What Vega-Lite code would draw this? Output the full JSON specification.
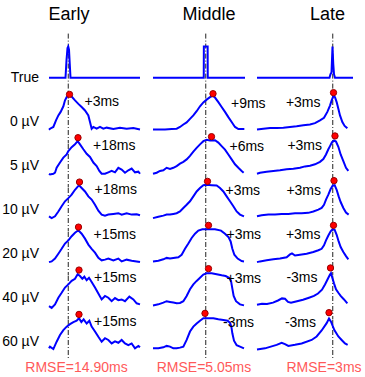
{
"$schema": "https://vega.github.io/schema/vega-lite/v6.json",
"padding": {"left": 2, "top": 5, "right": 2, "bottom": 2},
"bounds": "flush",
"config": {"view": {"stroke": null}, "font": "Liberation Sans"},
"data": {"values": [
{"k":"h","r":"True","c":"Early","t":40,"s":"Early"},
{"k":"h","r":"True","c":"Middle","t":112,"s":"Middle"},
{"k":"h","r":"True","c":"Late","t":141,"s":"Late"},
{"k":"e","r":"60 µV","c":"Early","t":55,"s":"RMSE=14.90ms"},
{"k":"e","r":"60 µV","c":"Middle","t":102,"s":"RMSE=5.05ms"},
{"k":"e","r":"60 µV","c":"Late","t":134,"s":"RMSE=3ms"},
{"k":"d","r":"True","c":"Early","t":38.5},{"k":"d","r":"0 µV","c":"Early","t":38.5},{"k":"d","r":"5 µV","c":"Early","t":38.5},{"k":"d","r":"10 µV","c":"Early","t":38.5},{"k":"d","r":"20 µV","c":"Early","t":38.5},{"k":"d","r":"40 µV","c":"Early","t":38.5},{"k":"d","r":"60 µV","c":"Early","t":38.5},
{"k":"d","r":"True","c":"Middle","t":105.5},{"k":"d","r":"0 µV","c":"Middle","t":105.5},{"k":"d","r":"5 µV","c":"Middle","t":105.5},{"k":"d","r":"10 µV","c":"Middle","t":105.5},{"k":"d","r":"20 µV","c":"Middle","t":105.5},{"k":"d","r":"40 µV","c":"Middle","t":105.5},{"k":"d","r":"60 µV","c":"Middle","t":105.5},
{"k":"d","r":"True","c":"Late","t":151.5},{"k":"d","r":"0 µV","c":"Late","t":151.5},{"k":"d","r":"5 µV","c":"Late","t":151.5},{"k":"d","r":"10 µV","c":"Late","t":151.5},{"k":"d","r":"20 µV","c":"Late","t":151.5},{"k":"d","r":"40 µV","c":"Late","t":151.5},{"k":"d","r":"60 µV","c":"Late","t":151.5},
{"k":"p","r":"0 µV","c":"Early","t":41,"v":0.98,"s":"+3ms"},
{"k":"p","r":"5 µV","c":"Early","t":58,"v":1.0,"s":"+18ms"},
{"k":"p","r":"10 µV","c":"Early","t":61,"v":0.99,"s":"+18ms"},
{"k":"p","r":"20 µV","c":"Early","t":59,"v":0.96,"s":"+15ms"},
{"k":"p","r":"40 µV","c":"Early","t":60,"v":0.99,"s":"+15ms"},
{"k":"p","r":"60 µV","c":"Early","t":60,"v":0.98,"s":"+15ms"},
{"k":"p","r":"0 µV","c":"Middle","t":120,"v":1.0,"s":"+9ms"},
{"k":"p","r":"5 µV","c":"Middle","t":117,"v":1.03,"s":"+6ms"},
{"k":"p","r":"10 µV","c":"Middle","t":109,"v":1.01,"s":"+3ms"},
{"k":"p","r":"20 µV","c":"Middle","t":111,"v":1.01,"s":"+3ms"},
{"k":"p","r":"40 µV","c":"Middle","t":111,"v":1.03,"s":"+3ms"},
{"k":"p","r":"60 µV","c":"Middle","t":104,"v":1.01,"s":"-3ms"},
{"k":"p","r":"0 µV","c":"Late","t":153,"v":1.03,"s":"+3ms"},
{"k":"p","r":"5 µV","c":"Late","t":156,"v":1.05,"s":"+3ms"},
{"k":"p","r":"10 µV","c":"Late","t":154,"v":1.03,"s":"+3ms"},
{"k":"p","r":"20 µV","c":"Late","t":153,"v":1.01,"s":"+3ms"},
{"k":"p","r":"40 µV","c":"Late","t":147,"v":1.05,"s":"-3ms"},
{"k":"p","r":"60 µV","c":"Late","t":144,"v":1.03,"s":"-3ms"},

{"k":"w","r":"True","c":"Early","t":0,"v":0.2},{"k":"w","r":"True","c":"Early","t":33,"v":0.2},{"k":"w","r":"True","c":"Early","t":35,"v":0.7},{"k":"w","r":"True","c":"Early","t":37,"v":1.05},{"k":"w","r":"True","c":"Early","t":38.5,"v":1.09},{"k":"w","r":"True","c":"Early","t":40,"v":1.0},{"k":"w","r":"True","c":"Early","t":41.5,"v":0.6},{"k":"w","r":"True","c":"Early","t":43,"v":0.2},{"k":"w","r":"True","c":"Early","t":182,"v":0.2},

{"k":"w","r":"0 µV","c":"Early","t":0,"v":-0.03},{"k":"w","r":"0 µV","c":"Early","t":2,"v":0},{"k":"w","r":"0 µV","c":"Early","t":8.7,"v":0.05},{"k":"w","r":"0 µV","c":"Early","t":14,"v":0.24},{"k":"w","r":"0 µV","c":"Early","t":18.7,"v":0.38},{"k":"w","r":"0 µV","c":"Early","t":23.3,"v":0.48},{"k":"w","r":"0 µV","c":"Early","t":28.7,"v":0.64},{"k":"w","r":"0 µV","c":"Early","t":32,"v":0.81},{"k":"w","r":"0 µV","c":"Early","t":35.3,"v":0.9},{"k":"w","r":"0 µV","c":"Early","t":40,"v":0.97},{"k":"w","r":"0 µV","c":"Early","t":45.3,"v":0.92},{"k":"w","r":"0 µV","c":"Early","t":52,"v":0.81},{"k":"w","r":"0 µV","c":"Early","t":58.7,"v":0.71},{"k":"w","r":"0 µV","c":"Early","t":65.3,"v":0.62},{"k":"w","r":"0 µV","c":"Early","t":72,"v":0.52},{"k":"w","r":"0 µV","c":"Early","t":78.7,"v":0.38},{"k":"w","r":"0 µV","c":"Early","t":82,"v":0.19},{"k":"w","r":"0 µV","c":"Early","t":85.3,"v":0},{"k":"w","r":"0 µV","c":"Early","t":88.7,"v":0.05},{"k":"w","r":"0 µV","c":"Early","t":95.3,"v":0},{"k":"w","r":"0 µV","c":"Early","t":102,"v":0.05},{"k":"w","r":"0 µV","c":"Early","t":108.7,"v":0},{"k":"w","r":"0 µV","c":"Early","t":115.3,"v":0.03},{"k":"w","r":"0 µV","c":"Early","t":128.7,"v":-0.01},{"k":"w","r":"0 µV","c":"Early","t":142,"v":0.03},{"k":"w","r":"0 µV","c":"Early","t":155.3,"v":0},{"k":"w","r":"0 µV","c":"Early","t":168.7,"v":0.02},{"k":"w","r":"0 µV","c":"Early","t":182,"v":-0.02},

{"k":"w","r":"5 µV","c":"Early","t":0,"v":-0.03},{"k":"w","r":"5 µV","c":"Early","t":2,"v":-0.05},{"k":"w","r":"5 µV","c":"Early","t":8.7,"v":-0.03},{"k":"w","r":"5 µV","c":"Early","t":12,"v":0},{"k":"w","r":"5 µV","c":"Early","t":15.3,"v":0.14},{"k":"w","r":"5 µV","c":"Early","t":22,"v":0.29},{"k":"w","r":"5 µV","c":"Early","t":28.7,"v":0.43},{"k":"w","r":"5 µV","c":"Early","t":35.3,"v":0.52},{"k":"w","r":"5 µV","c":"Early","t":38.7,"v":0.62},{"k":"w","r":"5 µV","c":"Early","t":45.3,"v":0.73},{"k":"w","r":"5 µV","c":"Early","t":52,"v":0.81},{"k":"w","r":"5 µV","c":"Early","t":57.3,"v":0.9},{"k":"w","r":"5 µV","c":"Early","t":62,"v":0.81},{"k":"w","r":"5 µV","c":"Early","t":68.7,"v":0.67},{"k":"w","r":"5 µV","c":"Early","t":75.3,"v":0.54},{"k":"w","r":"5 µV","c":"Early","t":82,"v":0.45},{"k":"w","r":"5 µV","c":"Early","t":88.7,"v":0.29},{"k":"w","r":"5 µV","c":"Early","t":95.3,"v":0.19},{"k":"w","r":"5 µV","c":"Early","t":100.7,"v":0.05},{"k":"w","r":"5 µV","c":"Early","t":105.3,"v":-0.03},{"k":"w","r":"5 µV","c":"Early","t":112,"v":-0.03},{"k":"w","r":"5 µV","c":"Early","t":118.7,"v":0.01},{"k":"w","r":"5 µV","c":"Early","t":125.3,"v":0.05},{"k":"w","r":"5 µV","c":"Early","t":132,"v":0.01},{"k":"w","r":"5 µV","c":"Early","t":138.7,"v":0.14},{"k":"w","r":"5 µV","c":"Early","t":145.3,"v":0.09},{"k":"w","r":"5 µV","c":"Early","t":152,"v":0},{"k":"w","r":"5 µV","c":"Early","t":158.7,"v":0.07},{"k":"w","r":"5 µV","c":"Early","t":165.3,"v":0.12},{"k":"w","r":"5 µV","c":"Early","t":172,"v":0.01},{"k":"w","r":"5 µV","c":"Early","t":178.7,"v":0.03},{"k":"w","r":"5 µV","c":"Early","t":182,"v":-0.03},

{"k":"w","r":"10 µV","c":"Early","t":0,"v":0.01},{"k":"w","r":"10 µV","c":"Early","t":5.3,"v":-0.04},{"k":"w","r":"10 µV","c":"Early","t":12,"v":0.01},{"k":"w","r":"10 µV","c":"Early","t":18.7,"v":0.15},{"k":"w","r":"10 µV","c":"Early","t":25.3,"v":0.3},{"k":"w","r":"10 µV","c":"Early","t":32,"v":0.44},{"k":"w","r":"10 µV","c":"Early","t":38.7,"v":0.53},{"k":"w","r":"10 µV","c":"Early","t":45.3,"v":0.63},{"k":"w","r":"10 µV","c":"Early","t":52,"v":0.77},{"k":"w","r":"10 µV","c":"Early","t":60,"v":0.9},{"k":"w","r":"10 µV","c":"Early","t":65.3,"v":0.82},{"k":"w","r":"10 µV","c":"Early","t":72,"v":0.72},{"k":"w","r":"10 µV","c":"Early","t":78.7,"v":0.58},{"k":"w","r":"10 µV","c":"Early","t":85.3,"v":0.49},{"k":"w","r":"10 µV","c":"Early","t":92,"v":0.34},{"k":"w","r":"10 µV","c":"Early","t":98.7,"v":0.17},{"k":"w","r":"10 µV","c":"Early","t":105.3,"v":0.06},{"k":"w","r":"10 µV","c":"Early","t":112,"v":0.03},{"k":"w","r":"10 µV","c":"Early","t":118.7,"v":0.06},{"k":"w","r":"10 µV","c":"Early","t":128.7,"v":0.08},{"k":"w","r":"10 µV","c":"Early","t":138.7,"v":0.1},{"k":"w","r":"10 µV","c":"Early","t":145.3,"v":0.06},{"k":"w","r":"10 µV","c":"Early","t":155.3,"v":0.1},{"k":"w","r":"10 µV","c":"Early","t":165.3,"v":0.06},{"k":"w","r":"10 µV","c":"Early","t":175.3,"v":0.07},{"k":"w","r":"10 µV","c":"Early","t":182,"v":0.04},

{"k":"w","r":"20 µV","c":"Early","t":0,"v":-0.04},{"k":"w","r":"20 µV","c":"Early","t":5.3,"v":-0.02},{"k":"w","r":"20 µV","c":"Early","t":12,"v":0.06},{"k":"w","r":"20 µV","c":"Early","t":18.7,"v":0.2},{"k":"w","r":"20 µV","c":"Early","t":25.3,"v":0.34},{"k":"w","r":"20 µV","c":"Early","t":32,"v":0.49},{"k":"w","r":"20 µV","c":"Early","t":38.7,"v":0.58},{"k":"w","r":"20 µV","c":"Early","t":45.3,"v":0.7},{"k":"w","r":"20 µV","c":"Early","t":52,"v":0.8},{"k":"w","r":"20 µV","c":"Early","t":58.7,"v":0.87},{"k":"w","r":"20 µV","c":"Early","t":65.3,"v":0.77},{"k":"w","r":"20 µV","c":"Early","t":72,"v":0.63},{"k":"w","r":"20 µV","c":"Early","t":78.7,"v":0.46},{"k":"w","r":"20 µV","c":"Early","t":85.3,"v":0.34},{"k":"w","r":"20 µV","c":"Early","t":92,"v":0.23},{"k":"w","r":"20 µV","c":"Early","t":98.7,"v":0.08},{"k":"w","r":"20 µV","c":"Early","t":105.3,"v":0.01},{"k":"w","r":"20 µV","c":"Early","t":112,"v":0.03},{"k":"w","r":"20 µV","c":"Early","t":118.7,"v":0.06},{"k":"w","r":"20 µV","c":"Early","t":128.7,"v":0.01},{"k":"w","r":"20 µV","c":"Early","t":138.7,"v":0.06},{"k":"w","r":"20 µV","c":"Early","t":145.3,"v":-0.02},{"k":"w","r":"20 µV","c":"Early","t":155.3,"v":0.03},{"k":"w","r":"20 µV","c":"Early","t":165.3,"v":0},{"k":"w","r":"20 µV","c":"Early","t":175.3,"v":-0.02},{"k":"w","r":"20 µV","c":"Early","t":182,"v":-0.04},

{"k":"w","r":"40 µV","c":"Early","t":0,"v":-0.04},{"k":"w","r":"40 µV","c":"Early","t":5.3,"v":-0.09},{"k":"w","r":"40 µV","c":"Early","t":12,"v":0.01},{"k":"w","r":"40 µV","c":"Early","t":18.7,"v":0.2},{"k":"w","r":"40 µV","c":"Early","t":25.3,"v":0.34},{"k":"w","r":"40 µV","c":"Early","t":32,"v":0.49},{"k":"w","r":"40 µV","c":"Early","t":38.7,"v":0.58},{"k":"w","r":"40 µV","c":"Early","t":45.3,"v":0.68},{"k":"w","r":"40 µV","c":"Early","t":52,"v":0.74},{"k":"w","r":"40 µV","c":"Early","t":57.3,"v":0.87},{"k":"w","r":"40 µV","c":"Early","t":62,"v":0.82},{"k":"w","r":"40 µV","c":"Early","t":66.7,"v":0.74},{"k":"w","r":"40 µV","c":"Early","t":70.7,"v":0.8},{"k":"w","r":"40 µV","c":"Early","t":75.3,"v":0.7},{"k":"w","r":"40 µV","c":"Early","t":80,"v":0.77},{"k":"w","r":"40 µV","c":"Early","t":85.3,"v":0.65},{"k":"w","r":"40 µV","c":"Early","t":92,"v":0.49},{"k":"w","r":"40 µV","c":"Early","t":98.7,"v":0.32},{"k":"w","r":"40 µV","c":"Early","t":105.3,"v":0.15},{"k":"w","r":"40 µV","c":"Early","t":112,"v":0.25},{"k":"w","r":"40 µV","c":"Early","t":118.7,"v":0.2},{"k":"w","r":"40 µV","c":"Early","t":125.3,"v":0.1},{"k":"w","r":"40 µV","c":"Early","t":132,"v":0.19},{"k":"w","r":"40 µV","c":"Early","t":138.7,"v":0.13},{"k":"w","r":"40 µV","c":"Early","t":145.3,"v":0.15},{"k":"w","r":"40 µV","c":"Early","t":152,"v":0.1},{"k":"w","r":"40 µV","c":"Early","t":160.7,"v":0.23},{"k":"w","r":"40 µV","c":"Early","t":168.7,"v":0.15},{"k":"w","r":"40 µV","c":"Early","t":175.3,"v":0.04},{"k":"w","r":"40 µV","c":"Early","t":182,"v":0.01},

{"k":"w","r":"60 µV","c":"Early","t":0,"v":0.01},{"k":"w","r":"60 µV","c":"Early","t":2,"v":0.06},{"k":"w","r":"60 µV","c":"Early","t":8.7,"v":-0.01},{"k":"w","r":"60 µV","c":"Early","t":15.3,"v":0.2},{"k":"w","r":"60 µV","c":"Early","t":22,"v":0.39},{"k":"w","r":"60 µV","c":"Early","t":28.7,"v":0.53},{"k":"w","r":"60 µV","c":"Early","t":35.3,"v":0.63},{"k":"w","r":"60 µV","c":"Early","t":42,"v":0.7},{"k":"w","r":"60 µV","c":"Early","t":48.7,"v":0.76},{"k":"w","r":"60 µV","c":"Early","t":55.3,"v":0.8},{"k":"w","r":"60 µV","c":"Early","t":60,"v":0.87},{"k":"w","r":"60 µV","c":"Early","t":64.7,"v":0.76},{"k":"w","r":"60 µV","c":"Early","t":69.3,"v":0.84},{"k":"w","r":"60 µV","c":"Early","t":75.3,"v":0.72},{"k":"w","r":"60 µV","c":"Early","t":80.7,"v":0.8},{"k":"w","r":"60 µV","c":"Early","t":85.3,"v":0.63},{"k":"w","r":"60 µV","c":"Early","t":92,"v":0.49},{"k":"w","r":"60 µV","c":"Early","t":98.7,"v":0.34},{"k":"w","r":"60 µV","c":"Early","t":105.3,"v":0.2},{"k":"w","r":"60 µV","c":"Early","t":112,"v":0.3},{"k":"w","r":"60 µV","c":"Early","t":118.7,"v":0.25},{"k":"w","r":"60 µV","c":"Early","t":125.3,"v":0.15},{"k":"w","r":"60 µV","c":"Early","t":132,"v":0.21},{"k":"w","r":"60 µV","c":"Early","t":138.7,"v":0.17},{"k":"w","r":"60 µV","c":"Early","t":145.3,"v":0.25},{"k":"w","r":"60 µV","c":"Early","t":152,"v":0.15},{"k":"w","r":"60 µV","c":"Early","t":158.7,"v":0.1},{"k":"w","r":"60 µV","c":"Early","t":165.3,"v":0.15},{"k":"w","r":"60 µV","c":"Early","t":172,"v":0.01},{"k":"w","r":"60 µV","c":"Early","t":178.7,"v":0.08},{"k":"w","r":"60 µV","c":"Early","t":182,"v":0.04},

{"k":"w","r":"True","c":"Middle","t":0,"v":0.2},{"k":"w","r":"True","c":"Middle","t":101.5,"v":0.2},{"k":"w","r":"True","c":"Middle","t":101.7,"v":1.09},{"k":"w","r":"True","c":"Middle","t":109.3,"v":1.09},{"k":"w","r":"True","c":"Middle","t":109.5,"v":0.2},{"k":"w","r":"True","c":"Middle","t":184,"v":0.2},

{"k":"w","r":"0 µV","c":"Middle","t":0,"v":-0.02},{"k":"w","r":"0 µV","c":"Middle","t":10.7,"v":-0.02},{"k":"w","r":"0 µV","c":"Middle","t":24,"v":-0.02},{"k":"w","r":"0 µV","c":"Middle","t":37.3,"v":-0.01},{"k":"w","r":"0 µV","c":"Middle","t":47.3,"v":0},{"k":"w","r":"0 µV","c":"Middle","t":54,"v":0.05},{"k":"w","r":"0 µV","c":"Middle","t":60.7,"v":0.12},{"k":"w","r":"0 µV","c":"Middle","t":67.3,"v":0.18},{"k":"w","r":"0 µV","c":"Middle","t":74,"v":0.28},{"k":"w","r":"0 µV","c":"Middle","t":80.7,"v":0.38},{"k":"w","r":"0 µV","c":"Middle","t":87.3,"v":0.5},{"k":"w","r":"0 µV","c":"Middle","t":94,"v":0.64},{"k":"w","r":"0 µV","c":"Middle","t":100.7,"v":0.75},{"k":"w","r":"0 µV","c":"Middle","t":107.3,"v":0.83},{"k":"w","r":"0 µV","c":"Middle","t":114,"v":0.9},{"k":"w","r":"0 µV","c":"Middle","t":119.3,"v":0.94},{"k":"w","r":"0 µV","c":"Middle","t":124,"v":0.89},{"k":"w","r":"0 µV","c":"Middle","t":130.7,"v":0.76},{"k":"w","r":"0 µV","c":"Middle","t":137.3,"v":0.62},{"k":"w","r":"0 µV","c":"Middle","t":144,"v":0.48},{"k":"w","r":"0 µV","c":"Middle","t":150.7,"v":0.33},{"k":"w","r":"0 µV","c":"Middle","t":157.3,"v":0.19},{"k":"w","r":"0 µV","c":"Middle","t":164,"v":0.05},{"k":"w","r":"0 µV","c":"Middle","t":170.7,"v":-0.01},{"k":"w","r":"0 µV","c":"Middle","t":182.7,"v":-0.01},

{"k":"w","r":"5 µV","c":"Middle","t":0,"v":-0.03},{"k":"w","r":"5 µV","c":"Middle","t":7.3,"v":0},{"k":"w","r":"5 µV","c":"Middle","t":14,"v":0.05},{"k":"w","r":"5 µV","c":"Middle","t":20.7,"v":0.07},{"k":"w","r":"5 µV","c":"Middle","t":27.3,"v":0.14},{"k":"w","r":"5 µV","c":"Middle","t":34,"v":0.11},{"k":"w","r":"5 µV","c":"Middle","t":40.7,"v":0.14},{"k":"w","r":"5 µV","c":"Middle","t":47.3,"v":0.19},{"k":"w","r":"5 µV","c":"Middle","t":54,"v":0.26},{"k":"w","r":"5 µV","c":"Middle","t":60.7,"v":0.31},{"k":"w","r":"5 µV","c":"Middle","t":67.3,"v":0.38},{"k":"w","r":"5 µV","c":"Middle","t":74,"v":0.48},{"k":"w","r":"5 µV","c":"Middle","t":80.7,"v":0.6},{"k":"w","r":"5 µV","c":"Middle","t":87.3,"v":0.71},{"k":"w","r":"5 µV","c":"Middle","t":94,"v":0.81},{"k":"w","r":"5 µV","c":"Middle","t":100.7,"v":0.9},{"k":"w","r":"5 µV","c":"Middle","t":107.3,"v":0.94},{"k":"w","r":"5 µV","c":"Middle","t":114,"v":0.92},{"k":"w","r":"5 µV","c":"Middle","t":124,"v":0.93},{"k":"w","r":"5 µV","c":"Middle","t":130.7,"v":0.86},{"k":"w","r":"5 µV","c":"Middle","t":137.3,"v":0.76},{"k":"w","r":"5 µV","c":"Middle","t":144,"v":0.66},{"k":"w","r":"5 µV","c":"Middle","t":150.7,"v":0.52},{"k":"w","r":"5 µV","c":"Middle","t":157.3,"v":0.38},{"k":"w","r":"5 µV","c":"Middle","t":164,"v":0.24},{"k":"w","r":"5 µV","c":"Middle","t":170.7,"v":0.14},{"k":"w","r":"5 µV","c":"Middle","t":177.3,"v":0.05},{"k":"w","r":"5 µV","c":"Middle","t":181.3,"v":0},

{"k":"w","r":"10 µV","c":"Middle","t":0,"v":-0.04},{"k":"w","r":"10 µV","c":"Middle","t":10.7,"v":0},{"k":"w","r":"10 µV","c":"Middle","t":20.7,"v":0.03},{"k":"w","r":"10 µV","c":"Middle","t":27.3,"v":0.06},{"k":"w","r":"10 µV","c":"Middle","t":34,"v":0.06},{"k":"w","r":"10 µV","c":"Middle","t":40.7,"v":0.08},{"k":"w","r":"10 µV","c":"Middle","t":47.3,"v":0.1},{"k":"w","r":"10 µV","c":"Middle","t":54,"v":0.15},{"k":"w","r":"10 µV","c":"Middle","t":60.7,"v":0.25},{"k":"w","r":"10 µV","c":"Middle","t":67.3,"v":0.34},{"k":"w","r":"10 µV","c":"Middle","t":74,"v":0.44},{"k":"w","r":"10 µV","c":"Middle","t":80.7,"v":0.58},{"k":"w","r":"10 µV","c":"Middle","t":87.3,"v":0.72},{"k":"w","r":"10 µV","c":"Middle","t":94,"v":0.82},{"k":"w","r":"10 µV","c":"Middle","t":100.7,"v":0.9},{"k":"w","r":"10 µV","c":"Middle","t":107.3,"v":0.91},{"k":"w","r":"10 µV","c":"Middle","t":117.3,"v":0.9},{"k":"w","r":"10 µV","c":"Middle","t":127.3,"v":0.89},{"k":"w","r":"10 µV","c":"Middle","t":134,"v":0.82},{"k":"w","r":"10 µV","c":"Middle","t":140.7,"v":0.72},{"k":"w","r":"10 µV","c":"Middle","t":147.3,"v":0.58},{"k":"w","r":"10 µV","c":"Middle","t":154,"v":0.44},{"k":"w","r":"10 µV","c":"Middle","t":160.7,"v":0.3},{"k":"w","r":"10 µV","c":"Middle","t":167.3,"v":0.15},{"k":"w","r":"10 µV","c":"Middle","t":174,"v":0.06},{"k":"w","r":"10 µV","c":"Middle","t":182,"v":0.01},

{"k":"w","r":"20 µV","c":"Middle","t":0,"v":-0.02},{"k":"w","r":"20 µV","c":"Middle","t":10.7,"v":0},{"k":"w","r":"20 µV","c":"Middle","t":20.7,"v":0.04},{"k":"w","r":"20 µV","c":"Middle","t":27.3,"v":0.08},{"k":"w","r":"20 µV","c":"Middle","t":34,"v":0.06},{"k":"w","r":"20 µV","c":"Middle","t":40.7,"v":0.08},{"k":"w","r":"20 µV","c":"Middle","t":50.7,"v":0.1},{"k":"w","r":"20 µV","c":"Middle","t":57.3,"v":0.17},{"k":"w","r":"20 µV","c":"Middle","t":64,"v":0.34},{"k":"w","r":"20 µV","c":"Middle","t":70.7,"v":0.49},{"k":"w","r":"20 µV","c":"Middle","t":77.3,"v":0.65},{"k":"w","r":"20 µV","c":"Middle","t":84,"v":0.77},{"k":"w","r":"20 µV","c":"Middle","t":90.7,"v":0.86},{"k":"w","r":"20 µV","c":"Middle","t":98.7,"v":0.9},{"k":"w","r":"20 µV","c":"Middle","t":110.7,"v":0.9},{"k":"w","r":"20 µV","c":"Middle","t":124,"v":0.9},{"k":"w","r":"20 µV","c":"Middle","t":136,"v":0.86},{"k":"w","r":"20 µV","c":"Middle","t":144,"v":0.77},{"k":"w","r":"20 µV","c":"Middle","t":150.7,"v":0.68},{"k":"w","r":"20 µV","c":"Middle","t":155.3,"v":0.55},{"k":"w","r":"20 µV","c":"Middle","t":158.7,"v":0.34},{"k":"w","r":"20 µV","c":"Middle","t":162.7,"v":0.17},{"k":"w","r":"20 µV","c":"Middle","t":169.3,"v":0.06},{"k":"w","r":"20 µV","c":"Middle","t":177.3,"v":-0.01},{"k":"w","r":"20 µV","c":"Middle","t":182,"v":-0.02},

{"k":"w","r":"40 µV","c":"Middle","t":0,"v":-0.02},{"k":"w","r":"40 µV","c":"Middle","t":10.7,"v":0.01},{"k":"w","r":"40 µV","c":"Middle","t":20.7,"v":0.06},{"k":"w","r":"40 µV","c":"Middle","t":27.3,"v":0.1},{"k":"w","r":"40 µV","c":"Middle","t":34,"v":0.08},{"k":"w","r":"40 µV","c":"Middle","t":40.7,"v":0.06},{"k":"w","r":"40 µV","c":"Middle","t":47.3,"v":0.04},{"k":"w","r":"40 µV","c":"Middle","t":54,"v":0.05},{"k":"w","r":"40 µV","c":"Middle","t":60.7,"v":0.1},{"k":"w","r":"40 µV","c":"Middle","t":67.3,"v":0.25},{"k":"w","r":"40 µV","c":"Middle","t":74,"v":0.44},{"k":"w","r":"40 µV","c":"Middle","t":80.7,"v":0.58},{"k":"w","r":"40 µV","c":"Middle","t":87.3,"v":0.68},{"k":"w","r":"40 µV","c":"Middle","t":94,"v":0.77},{"k":"w","r":"40 µV","c":"Middle","t":100.7,"v":0.86},{"k":"w","r":"40 µV","c":"Middle","t":107.3,"v":0.9},{"k":"w","r":"40 µV","c":"Middle","t":117.3,"v":0.9},{"k":"w","r":"40 µV","c":"Middle","t":127.3,"v":0.87},{"k":"w","r":"40 µV","c":"Middle","t":137.3,"v":0.84},{"k":"w","r":"40 µV","c":"Middle","t":145.3,"v":0.82},{"k":"w","r":"40 µV","c":"Middle","t":152,"v":0.77},{"k":"w","r":"40 µV","c":"Middle","t":156,"v":0.68},{"k":"w","r":"40 µV","c":"Middle","t":158.7,"v":0.46},{"k":"w","r":"40 µV","c":"Middle","t":161.3,"v":0.25},{"k":"w","r":"40 µV","c":"Middle","t":166,"v":0.1},{"k":"w","r":"40 µV","c":"Middle","t":174,"v":0.01},{"k":"w","r":"40 µV","c":"Middle","t":182,"v":-0.02},

{"k":"w","r":"60 µV","c":"Middle","t":0,"v":0.01},{"k":"w","r":"60 µV","c":"Middle","t":10.7,"v":0.01},{"k":"w","r":"60 µV","c":"Middle","t":20.7,"v":0.04},{"k":"w","r":"60 µV","c":"Middle","t":27.3,"v":0.08},{"k":"w","r":"60 µV","c":"Middle","t":34,"v":0.06},{"k":"w","r":"60 µV","c":"Middle","t":40.7,"v":0.01},{"k":"w","r":"60 µV","c":"Middle","t":47.3,"v":0.01},{"k":"w","r":"60 µV","c":"Middle","t":54,"v":0.03},{"k":"w","r":"60 µV","c":"Middle","t":60.7,"v":0.06},{"k":"w","r":"60 µV","c":"Middle","t":67.3,"v":0.25},{"k":"w","r":"60 µV","c":"Middle","t":74,"v":0.49},{"k":"w","r":"60 µV","c":"Middle","t":80.7,"v":0.63},{"k":"w","r":"60 µV","c":"Middle","t":87.3,"v":0.72},{"k":"w","r":"60 µV","c":"Middle","t":94,"v":0.8},{"k":"w","r":"60 µV","c":"Middle","t":100.7,"v":0.87},{"k":"w","r":"60 µV","c":"Middle","t":110.7,"v":0.87},{"k":"w","r":"60 µV","c":"Middle","t":120.7,"v":0.87},{"k":"w","r":"60 µV","c":"Middle","t":130.7,"v":0.84},{"k":"w","r":"60 µV","c":"Middle","t":140.7,"v":0.82},{"k":"w","r":"60 µV","c":"Middle","t":149.3,"v":0.8},{"k":"w","r":"60 µV","c":"Middle","t":154,"v":0.74},{"k":"w","r":"60 µV","c":"Middle","t":156.7,"v":0.63},{"k":"w","r":"60 µV","c":"Middle","t":158.7,"v":0.44},{"k":"w","r":"60 µV","c":"Middle","t":162,"v":0.23},{"k":"w","r":"60 µV","c":"Middle","t":167.3,"v":0.1},{"k":"w","r":"60 µV","c":"Middle","t":174,"v":0.06},{"k":"w","r":"60 µV","c":"Middle","t":182,"v":0.01},

{"k":"w","r":"True","c":"Late","t":0,"v":0.2},{"k":"w","r":"True","c":"Late","t":145,"v":0.2},{"k":"w","r":"True","c":"Late","t":147,"v":0.3},{"k":"w","r":"True","c":"Late","t":149,"v":0.35},{"k":"w","r":"True","c":"Late","t":151,"v":1.09},{"k":"w","r":"True","c":"Late","t":152.5,"v":0.6},{"k":"w","r":"True","c":"Late","t":154,"v":0.3},{"k":"w","r":"True","c":"Late","t":156,"v":0.2},{"k":"w","r":"True","c":"Late","t":192,"v":0.2},

{"k":"w","r":"0 µV","c":"Late","t":0,"v":-0.02},{"k":"w","r":"0 µV","c":"Late","t":12.7,"v":0},{"k":"w","r":"0 µV","c":"Late","t":26,"v":0.02},{"k":"w","r":"0 µV","c":"Late","t":39.3,"v":0.02},{"k":"w","r":"0 µV","c":"Late","t":52.7,"v":0.03},{"k":"w","r":"0 µV","c":"Late","t":66,"v":0.05},{"k":"w","r":"0 µV","c":"Late","t":79.3,"v":0.07},{"k":"w","r":"0 µV","c":"Late","t":92.7,"v":0.1},{"k":"w","r":"0 µV","c":"Late","t":106,"v":0.12},{"k":"w","r":"0 µV","c":"Late","t":116,"v":0.16},{"k":"w","r":"0 µV","c":"Late","t":126,"v":0.24},{"k":"w","r":"0 µV","c":"Late","t":134,"v":0.31},{"k":"w","r":"0 µV","c":"Late","t":140.7,"v":0.48},{"k":"w","r":"0 µV","c":"Late","t":146,"v":0.66},{"k":"w","r":"0 µV","c":"Late","t":149.3,"v":0.81},{"k":"w","r":"0 µV","c":"Late","t":152.7,"v":0.93},{"k":"w","r":"0 µV","c":"Late","t":156,"v":0.9},{"k":"w","r":"0 µV","c":"Late","t":159.3,"v":0.76},{"k":"w","r":"0 µV","c":"Late","t":162.7,"v":0.57},{"k":"w","r":"0 µV","c":"Late","t":166,"v":0.38},{"k":"w","r":"0 µV","c":"Late","t":170.7,"v":0.19},{"k":"w","r":"0 µV","c":"Late","t":175.3,"v":0.08},{"k":"w","r":"0 µV","c":"Late","t":180.7,"v":0.01},

{"k":"w","r":"5 µV","c":"Late","t":0,"v":-0.03},{"k":"w","r":"5 µV","c":"Late","t":6,"v":0},{"k":"w","r":"5 µV","c":"Late","t":19.3,"v":0.03},{"k":"w","r":"5 µV","c":"Late","t":32.7,"v":0.05},{"k":"w","r":"5 µV","c":"Late","t":46,"v":0.07},{"k":"w","r":"5 µV","c":"Late","t":59.3,"v":0.1},{"k":"w","r":"5 µV","c":"Late","t":72.7,"v":0.11},{"k":"w","r":"5 µV","c":"Late","t":86,"v":0.14},{"k":"w","r":"5 µV","c":"Late","t":96,"v":0.18},{"k":"w","r":"5 µV","c":"Late","t":106,"v":0.2},{"k":"w","r":"5 µV","c":"Late","t":116,"v":0.24},{"k":"w","r":"5 µV","c":"Late","t":126,"v":0.31},{"k":"w","r":"5 µV","c":"Late","t":132.7,"v":0.39},{"k":"w","r":"5 µV","c":"Late","t":138,"v":0.52},{"k":"w","r":"5 µV","c":"Late","t":142.7,"v":0.67},{"k":"w","r":"5 µV","c":"Late","t":146,"v":0.76},{"k":"w","r":"5 µV","c":"Late","t":150,"v":0.87},{"k":"w","r":"5 µV","c":"Late","t":154,"v":0.92},{"k":"w","r":"5 µV","c":"Late","t":158,"v":0.89},{"k":"w","r":"5 µV","c":"Late","t":162.7,"v":0.74},{"k":"w","r":"5 µV","c":"Late","t":167.3,"v":0.52},{"k":"w","r":"5 µV","c":"Late","t":172.7,"v":0.33},{"k":"w","r":"5 µV","c":"Late","t":178,"v":0.14},{"k":"w","r":"5 µV","c":"Late","t":182.7,"v":0.05},

{"k":"w","r":"10 µV","c":"Late","t":0,"v":0.01},{"k":"w","r":"10 µV","c":"Late","t":9.3,"v":0.04},{"k":"w","r":"10 µV","c":"Late","t":22.7,"v":0.06},{"k":"w","r":"10 µV","c":"Late","t":36,"v":0.06},{"k":"w","r":"10 µV","c":"Late","t":49.3,"v":0.08},{"k":"w","r":"10 µV","c":"Late","t":62.7,"v":0.08},{"k":"w","r":"10 µV","c":"Late","t":76,"v":0.1},{"k":"w","r":"10 µV","c":"Late","t":89.3,"v":0.1},{"k":"w","r":"10 µV","c":"Late","t":102.7,"v":0.11},{"k":"w","r":"10 µV","c":"Late","t":112.7,"v":0.15},{"k":"w","r":"10 µV","c":"Late","t":122.7,"v":0.2},{"k":"w","r":"10 µV","c":"Late","t":129.3,"v":0.25},{"k":"w","r":"10 µV","c":"Late","t":134,"v":0.34},{"k":"w","r":"10 µV","c":"Late","t":138,"v":0.49},{"k":"w","r":"10 µV","c":"Late","t":142.7,"v":0.63},{"k":"w","r":"10 µV","c":"Late","t":147.3,"v":0.79},{"k":"w","r":"10 µV","c":"Late","t":151.3,"v":0.89},{"k":"w","r":"10 µV","c":"Late","t":155.3,"v":0.9},{"k":"w","r":"10 µV","c":"Late","t":159.3,"v":0.77},{"k":"w","r":"10 µV","c":"Late","t":163.3,"v":0.58},{"k":"w","r":"10 µV","c":"Late","t":167.3,"v":0.42},{"k":"w","r":"10 µV","c":"Late","t":172.7,"v":0.25},{"k":"w","r":"10 µV","c":"Late","t":178,"v":0.12},{"k":"w","r":"10 µV","c":"Late","t":183.3,"v":0.06},

{"k":"w","r":"20 µV","c":"Late","t":0,"v":-0.04},{"k":"w","r":"20 µV","c":"Late","t":6,"v":-0.02},{"k":"w","r":"20 µV","c":"Late","t":19.3,"v":0.01},{"k":"w","r":"20 µV","c":"Late","t":32.7,"v":0.04},{"k":"w","r":"20 µV","c":"Late","t":46,"v":0.06},{"k":"w","r":"20 µV","c":"Late","t":59.3,"v":0.1},{"k":"w","r":"20 µV","c":"Late","t":66,"v":0.18},{"k":"w","r":"20 µV","c":"Late","t":70,"v":0.21},{"k":"w","r":"20 µV","c":"Late","t":76,"v":0.15},{"k":"w","r":"20 µV","c":"Late","t":86,"v":0.17},{"k":"w","r":"20 µV","c":"Late","t":99.3,"v":0.2},{"k":"w","r":"20 µV","c":"Late","t":112.7,"v":0.25},{"k":"w","r":"20 µV","c":"Late","t":122.7,"v":0.3},{"k":"w","r":"20 µV","c":"Late","t":129.3,"v":0.34},{"k":"w","r":"20 µV","c":"Late","t":134,"v":0.44},{"k":"w","r":"20 µV","c":"Late","t":138,"v":0.58},{"k":"w","r":"20 µV","c":"Late","t":142.7,"v":0.72},{"k":"w","r":"20 µV","c":"Late","t":147.3,"v":0.84},{"k":"w","r":"20 µV","c":"Late","t":151.3,"v":0.9},{"k":"w","r":"20 µV","c":"Late","t":155.3,"v":0.88},{"k":"w","r":"20 µV","c":"Late","t":159.3,"v":0.74},{"k":"w","r":"20 µV","c":"Late","t":163.3,"v":0.55},{"k":"w","r":"20 µV","c":"Late","t":167.3,"v":0.39},{"k":"w","r":"20 µV","c":"Late","t":172.7,"v":0.25},{"k":"w","r":"20 µV","c":"Late","t":178,"v":0.13},{"k":"w","r":"20 µV","c":"Late","t":182.7,"v":0.04},

{"k":"w","r":"40 µV","c":"Late","t":0,"v":0.0},{"k":"w","r":"40 µV","c":"Late","t":10,"v":0.03},{"k":"w","r":"40 µV","c":"Late","t":20,"v":0.02},{"k":"w","r":"40 µV","c":"Late","t":32,"v":0.06},{"k":"w","r":"40 µV","c":"Late","t":42,"v":0.12},{"k":"w","r":"40 µV","c":"Late","t":50,"v":0.18},{"k":"w","r":"40 µV","c":"Late","t":56,"v":0.17},{"k":"w","r":"40 µV","c":"Late","t":62,"v":0.08},{"k":"w","r":"40 µV","c":"Late","t":68,"v":0.06},{"k":"w","r":"40 µV","c":"Late","t":80,"v":0.1},{"k":"w","r":"40 µV","c":"Late","t":92,"v":0.14},{"k":"w","r":"40 µV","c":"Late","t":104,"v":0.2},{"k":"w","r":"40 µV","c":"Late","t":114,"v":0.25},{"k":"w","r":"40 µV","c":"Late","t":122,"v":0.32},{"k":"w","r":"40 µV","c":"Late","t":130,"v":0.43},{"k":"w","r":"40 µV","c":"Late","t":136,"v":0.58},{"k":"w","r":"40 µV","c":"Late","t":141,"v":0.72},{"k":"w","r":"40 µV","c":"Late","t":146,"v":0.86},{"k":"w","r":"40 µV","c":"Late","t":148,"v":0.9},{"k":"w","r":"40 µV","c":"Late","t":150,"v":0.8},{"k":"w","r":"40 µV","c":"Late","t":154,"v":0.61},{"k":"w","r":"40 µV","c":"Late","t":158,"v":0.44},{"k":"w","r":"40 µV","c":"Late","t":162.7,"v":0.34},{"k":"w","r":"40 µV","c":"Late","t":167.3,"v":0.25},{"k":"w","r":"40 µV","c":"Late","t":174,"v":0.15},{"k":"w","r":"40 µV","c":"Late","t":180.7,"v":0.04},

{"k":"w","r":"60 µV","c":"Late","t":0,"v":-0.02},{"k":"w","r":"60 µV","c":"Late","t":16,"v":0.01},{"k":"w","r":"60 µV","c":"Late","t":39.3,"v":0.11},{"k":"w","r":"60 µV","c":"Late","t":49.3,"v":0.17},{"k":"w","r":"60 µV","c":"Late","t":56,"v":0.13},{"k":"w","r":"60 µV","c":"Late","t":62.7,"v":0.08},{"k":"w","r":"60 µV","c":"Late","t":76,"v":0.11},{"k":"w","r":"60 µV","c":"Late","t":89.3,"v":0.15},{"k":"w","r":"60 µV","c":"Late","t":109.3,"v":0.25},{"k":"w","r":"60 µV","c":"Late","t":119.3,"v":0.35},{"k":"w","r":"60 µV","c":"Late","t":129.3,"v":0.52},{"k":"w","r":"60 µV","c":"Late","t":139.3,"v":0.73},{"k":"w","r":"60 µV","c":"Late","t":144,"v":0.86},{"k":"w","r":"60 µV","c":"Late","t":148,"v":0.77},{"k":"w","r":"60 µV","c":"Late","t":154.7,"v":0.53},{"k":"w","r":"60 µV","c":"Late","t":162.7,"v":0.35},{"k":"w","r":"60 µV","c":"Late","t":169.3,"v":0.25},{"k":"w","r":"60 µV","c":"Late","t":176,"v":0.15},{"k":"w","r":"60 µV","c":"Late","t":181.3,"v":0.11}
]},
"facet": {
  "row": {"field": "r", "type": "nominal", "sort": ["True","0 µV","5 µV","10 µV","20 µV","40 µV","60 µV"], "header": {"labels": false, "title": null}},
  "column": {"field": "c", "type": "nominal", "sort": ["Early","Middle","Late"], "header": {"labels": false, "title": null}}
},
"spacing": {"row": 0, "column": 12},
"spec": {
  "width": 92, "height": 43.4,
  "layer": [
    {"transform": [{"filter": "datum.k == 'd' && datum.r == 'True'"}],
     "mark": {"type": "rule", "color": "#222222", "strokeWidth": 1, "strokeDash": [5, 2, 1, 2]},
     "encoding": {"x": {"field": "t", "type": "quantitative", "scale": {"domain": [0, 184], "nice": false, "zero": false}, "axis": null},
                  "y": {"datum": 1.46, "type": "quantitative", "scale": {"domain": [-0.42, 0.82], "nice": false, "zero": false}, "axis": null},
                  "y2": {"datum": -0.42}}},
    {"transform": [{"filter": "datum.k == 'd' && datum.r != 'True' && datum.r != '60 µV'"}],
     "mark": {"type": "rule", "color": "#222222", "strokeWidth": 1, "strokeDash": [5, 2, 1, 2]},
     "encoding": {"x": {"field": "t", "type": "quantitative", "scale": {"domain": [0, 184], "nice": false, "zero": false}, "axis": null},
                  "y": {"datum": 0.82, "type": "quantitative", "scale": {"domain": [-0.42, 0.82], "nice": false, "zero": false}, "axis": null},
                  "y2": {"datum": -0.42}}},
    {"transform": [{"filter": "datum.k == 'd' && datum.r == '60 µV'"}],
     "mark": {"type": "rule", "color": "#222222", "strokeWidth": 1, "strokeDash": [5, 2, 1, 2]},
     "encoding": {"x": {"field": "t", "type": "quantitative", "scale": {"domain": [0, 184], "nice": false, "zero": false}, "axis": null},
                  "y": {"datum": 0.82, "type": "quantitative", "scale": {"domain": [-0.42, 0.82], "nice": false, "zero": false}, "axis": null},
                  "y2": {"datum": -0.3}}},
    {"transform": [{"filter": "datum.k == 'd' && datum.c == 'Early'"}],
     "mark": {"type": "text", "align": "right", "baseline": "middle", "font": "Liberation Sans", "fontSize": 14, "color": "#000000"},
     "encoding": {"x": {"datum": -20, "type": "quantitative", "scale": {"domain": [0, 184], "nice": false, "zero": false}, "axis": null},
                  "y": {"datum": 0.2, "type": "quantitative", "scale": {"domain": [-0.42, 0.82], "nice": false, "zero": false}, "axis": null},
                  "text": {"field": "r"}}},
    {"transform": [{"filter": "datum.k == 'w'"}],
     "mark": {"type": "line", "color": "#0000FF", "strokeWidth": 2, "clip": false},
     "encoding": {"x": {"field": "t", "type": "quantitative", "scale": {"domain": [0, 184], "nice": false, "zero": false}, "axis": null},
                  "y": {"field": "v", "type": "quantitative", "scale": {"domain": [-0.42, 0.82], "nice": false, "zero": false}, "axis": null}}},
    {"transform": [{"filter": "datum.k == 'p'"}],
     "mark": {"type": "point", "shape": "circle", "filled": true, "fill": "#FF0000", "stroke": "#990000", "strokeWidth": 1, "size": 40, "opacity": 1},
     "encoding": {"x": {"field": "t", "type": "quantitative", "scale": {"domain": [0, 184], "nice": false, "zero": false}, "axis": null},
                  "y": {"field": "v", "type": "quantitative", "scale": {"domain": [-0.42, 0.82], "nice": false, "zero": false}, "axis": null}}},
    {"transform": [{"filter": "datum.k == 'p' && datum.c == 'Early'"}],
     "mark": {"type": "text", "align": "left", "baseline": "middle", "dx": 15, "dy": 8, "font": "Liberation Sans", "fontSize": 14, "color": "#000000"},
     "encoding": {"x": {"field": "t", "type": "quantitative", "scale": {"domain": [0, 184], "nice": false, "zero": false}, "axis": null},
                  "y": {"field": "v", "type": "quantitative", "scale": {"domain": [-0.42, 0.82], "nice": false, "zero": false}, "axis": null},
                  "text": {"field": "s"}}},
    {"transform": [{"filter": "datum.k == 'p' && datum.c == 'Middle'"}],
     "mark": {"type": "text", "align": "left", "baseline": "middle", "dx": 18, "dy": 10, "font": "Liberation Sans", "fontSize": 14, "color": "#000000"},
     "encoding": {"x": {"field": "t", "type": "quantitative", "scale": {"domain": [0, 184], "nice": false, "zero": false}, "axis": null},
                  "y": {"field": "v", "type": "quantitative", "scale": {"domain": [-0.42, 0.82], "nice": false, "zero": false}, "axis": null},
                  "text": {"field": "s"}}},
    {"transform": [{"filter": "datum.k == 'p' && datum.c == 'Late'"}],
     "mark": {"type": "text", "align": "right", "baseline": "middle", "dx": -13, "dy": 10, "font": "Liberation Sans", "fontSize": 14, "color": "#000000"},
     "encoding": {"x": {"field": "t", "type": "quantitative", "scale": {"domain": [0, 184], "nice": false, "zero": false}, "axis": null},
                  "y": {"field": "v", "type": "quantitative", "scale": {"domain": [-0.42, 0.82], "nice": false, "zero": false}, "axis": null},
                  "text": {"field": "s"}}},
    {"transform": [{"filter": "datum.k == 'h'"}],
     "mark": {"type": "text", "align": "center", "baseline": "middle", "font": "Liberation Sans", "fontSize": 18, "color": "#000000"},
     "encoding": {"x": {"field": "t", "type": "quantitative", "scale": {"domain": [0, 184], "nice": false, "zero": false}, "axis": null},
                  "y": {"datum": 2.0, "type": "quantitative", "scale": {"domain": [-0.42, 0.82], "nice": false, "zero": false}, "axis": null},
                  "text": {"field": "s"}}},
    {"transform": [{"filter": "datum.k == 'e'"}],
     "mark": {"type": "text", "align": "center", "baseline": "middle", "font": "Liberation Sans", "fontSize": 14, "color": "#FF5A5A"},
     "encoding": {"x": {"field": "t", "type": "quantitative", "scale": {"domain": [0, 184], "nice": false, "zero": false}, "axis": null},
                  "y": {"datum": -0.56, "type": "quantitative", "scale": {"domain": [-0.42, 0.82], "nice": false, "zero": false}, "axis": null},
                  "text": {"field": "s"}}}
  ]
}
}
